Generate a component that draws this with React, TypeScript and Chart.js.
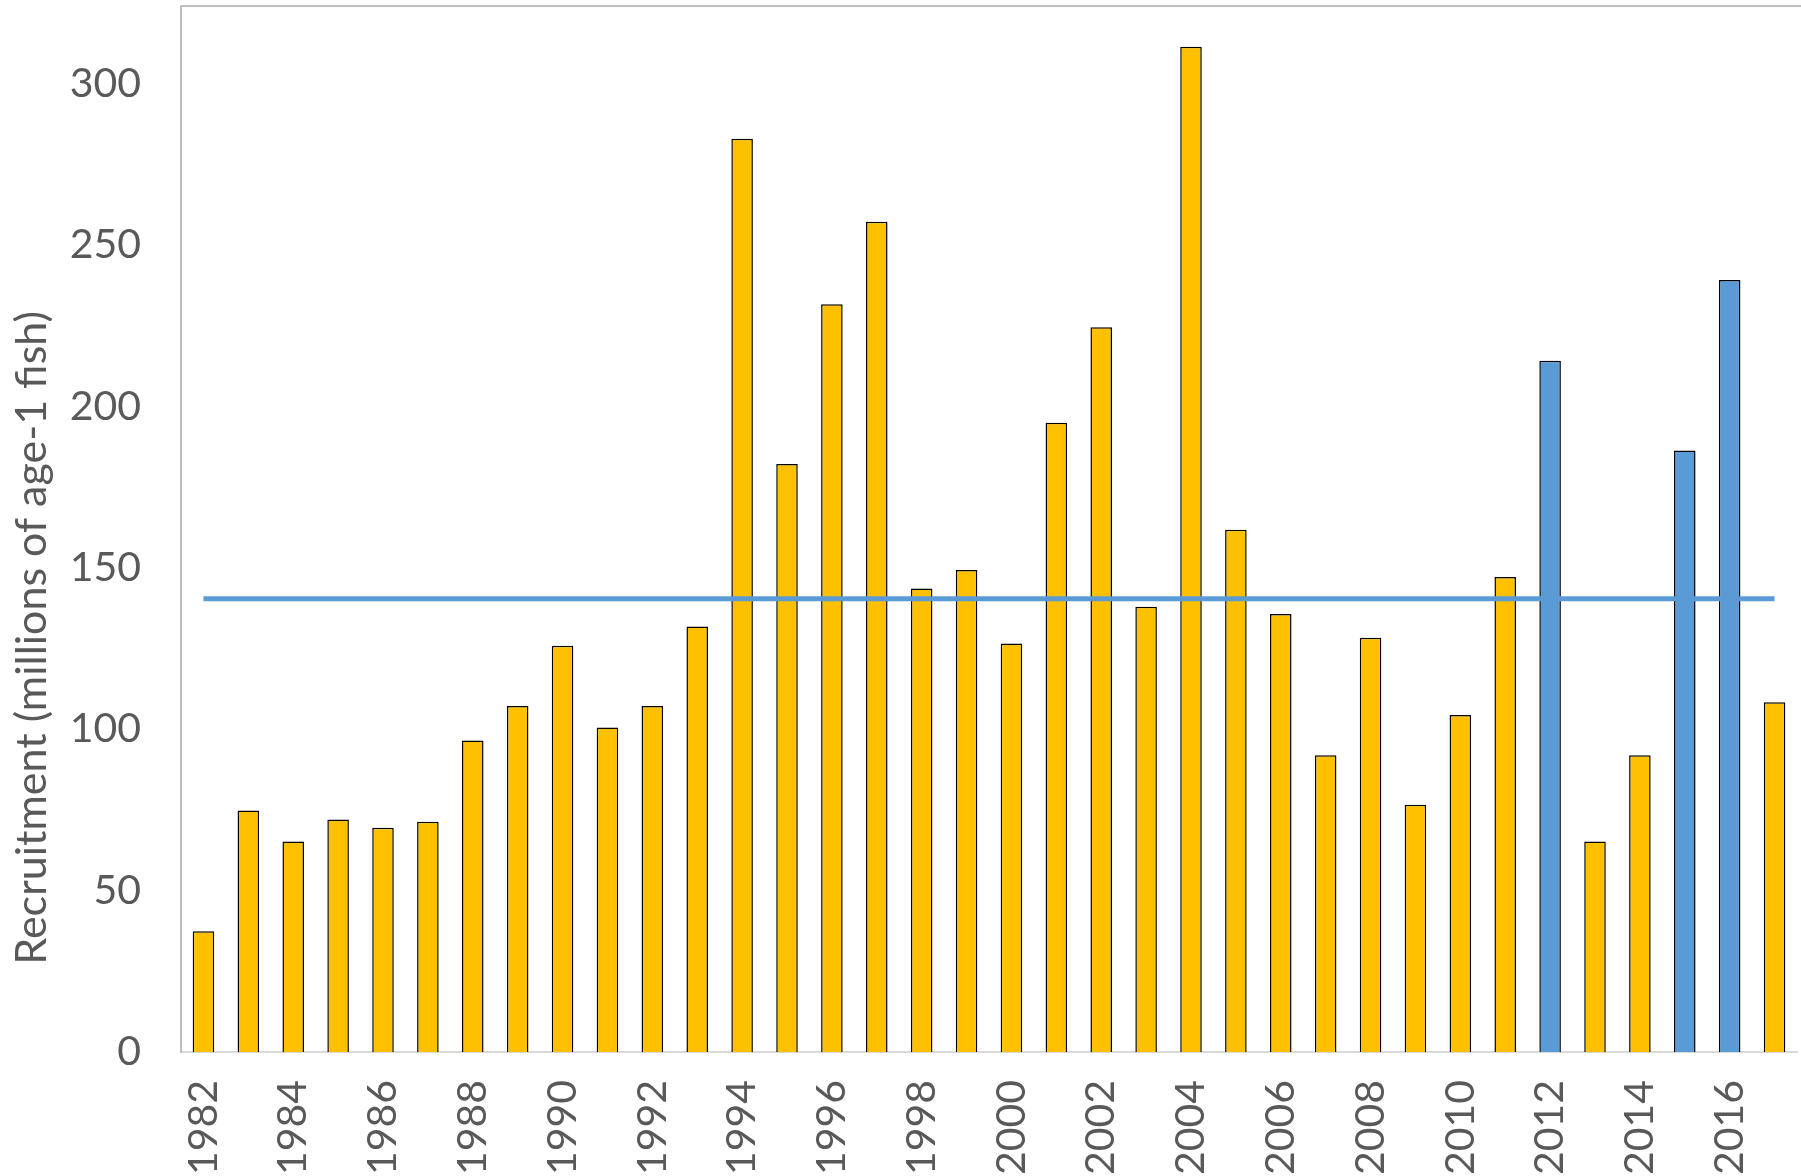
import { useEffect, useRef } from "react"
import { Chart, registerables } from "chart.js"

Chart.register(...registerables)

// recruitment by year, millions of age-1 fish
const years = [
  1982, 1983, 1984, 1985, 1986, 1987, 1988, 1989, 1990, 1991, 1992, 1993,
  1994, 1995, 1996, 1997, 1998, 1999, 2000, 2001, 2002, 2003, 2004, 2005,
  2006, 2007, 2008, 2009, 2010, 2011, 2012, 2013, 2014, 2015, 2016, 2017,
]
const recruitment = [
  37.4, 74.8, 65.2, 72.0, 69.5, 71.3, 96.5, 107.2, 125.8, 100.5, 107.2, 131.8,
  282.9, 182.1, 231.6, 257.2, 143.6, 149.3, 126.5, 194.9, 224.5, 137.9, 311.4, 161.8,
  135.7, 91.9, 128.3, 76.6, 104.4, 147.1, 214.1, 65.2, 91.9, 186.3, 239.1, 108.3,
]
const highlightYears = [2012, 2015, 2016]
const meanRecruitment = 140.4
const yTicks = [0, 50, 100, 150, 200, 250, 300]

const yTitle = "Recruitment (millions of age-1 fish)"
const FONT = "Lato, 'Open Sans', sans-serif"

export default function App() {
  const chartRef = useRef<HTMLCanvasElement>(null)
  const chartInstance = useRef<Chart | null>(null)

  useEffect(() => {
    document.body.style.margin = "0"
    if (!chartRef.current) return
    if (chartInstance.current) chartInstance.current.destroy()
    const ctx = chartRef.current.getContext("2d")
    if (!ctx) return

    // y title sits a bit below the plot centre, plus the top frame line
    const framePlugin = {
      id: "frame",
      afterDraw(chart: Chart) {
        const { ctx, chartArea } = chart
        ctx.save()
        ctx.strokeStyle = "#BFBFBF"
        ctx.lineWidth = 2
        ctx.beginPath()
        ctx.moveTo(chartArea.left, chartArea.top)
        ctx.lineTo(chartArea.right + 10, chartArea.top)
        ctx.stroke()

        ctx.translate(32, chartArea.top + (chartArea.bottom - chartArea.top) * 0.604)
        ctx.rotate(-Math.PI / 2)
        ctx.fillStyle = "#595959"
        ctx.font = `43px ${FONT}`
        ctx.textAlign = "center"
        ctx.textBaseline = "middle"
        ctx.fillText(yTitle, 0, 0)
        ctx.restore()
      },
    }

    const noPad = (scale: any) => {
      scale.paddingTop = 0
      scale.paddingBottom = 0
      scale.paddingLeft = 0
      scale.paddingRight = 0
    }

    chartInstance.current = new Chart(ctx, {
      type: "bar",
      data: {
        labels: years.map(String),
        datasets: [
          {
            type: "line",
            label: "Mean",
            data: years.map(() => meanRecruitment),
            borderColor: "#5B9BD5",
            borderWidth: 5,
            pointRadius: 0,
            order: 0,
          },
          {
            type: "bar",
            label: "Recruitment",
            data: recruitment,
            backgroundColor: years.map((y) => (highlightYears.includes(y) ? "#5B9BD5" : "#FFC000")),
            borderColor: "#000000",
            borderWidth: 1.5,
            barPercentage: 0.48,
            categoryPercentage: 1,
            order: 1,
          },
        ],
      },
      options: {
        animation: false,
        responsive: true,
        maintainAspectRatio: false,
        layout: { padding: { top: 6, right: 4, left: 0, bottom: 0 } },
        scales: {
          x: {
            grid: { display: false, drawTicks: false },
            border: { display: true, color: "#D9D9D9", width: 2 },
            ticks: {
              autoSkip: false,
              minRotation: 90,
              maxRotation: 90,
              padding: 28,
              color: "#595959",
              font: { family: FONT, size: 41 },
              callback: (_v, index) => (index % 2 === 0 ? String(years[index]) : ""),
            },
            afterFit: (scale) => {
              scale.height = 124
              noPad(scale)
            },
          },
          y: {
            min: 0,
            max: 324,
            grid: { display: false, drawTicks: false },
            border: { display: true, color: "#BFBFBF", width: 2 },
            afterBuildTicks: (scale) => {
              scale.ticks = yTicks.map((v) => ({ value: v }))
            },
            ticks: {
              padding: 40,
              color: "#595959",
              font: { family: FONT, size: 41 },
            },
            afterFit: (scale) => {
              scale.width = 181
              noPad(scale)
            },
          },
        },
        plugins: {
          legend: { display: false },
          tooltip: { enabled: false },
        },
      },
      plugins: [framePlugin],
    })

    return () => {
      if (chartInstance.current) {
        chartInstance.current.destroy()
        chartInstance.current = null
      }
    }
  }, [])

  return (
    <div style={{ width: "1801px", height: "1176px", background: "#fff" }}>
      <canvas ref={chartRef}></canvas>
    </div>
  )
}
